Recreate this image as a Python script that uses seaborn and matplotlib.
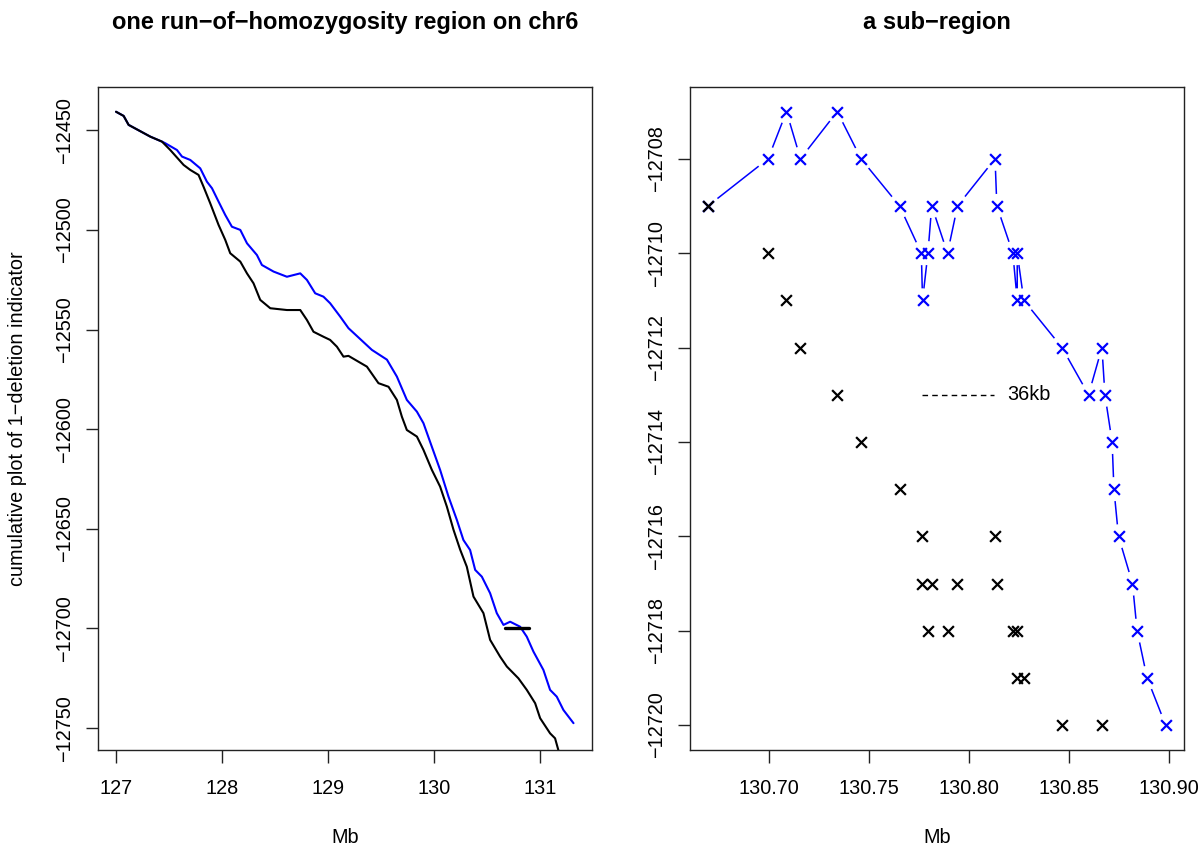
import numpy as np
import pandas as pd
import matplotlib
matplotlib.use("Agg")
import matplotlib.pyplot as plt
import matplotlib.ticker as mticker
import seaborn as sns

# ====== 左图：累计曲线（从图上读取的折线顶点） ======
black_mb = [127.000, 127.072, 127.119, 127.324, 127.434, 127.512, 127.638, 127.701,
            127.779, 127.826, 127.889, 127.968, 128.031, 128.078, 128.173, 128.236,
            128.298, 128.361, 128.456, 128.613, 128.739, 128.802, 128.864, 128.958,
            129.021, 129.085, 129.147, 129.194, 129.368, 129.477, 129.572, 129.651,
            129.698, 129.745, 129.840, 129.902, 129.981, 130.059, 130.123, 130.185,
            130.248, 130.311, 130.374, 130.468, 130.531, 130.625, 130.689, 130.798,
            130.877, 130.956, 131.003, 131.097, 131.144, 131.175]
black_cum = [-12440.7, -12442.8, -12447.3, -12453.2, -12455.7, -12459.9, -12467.4, -12469.9,
             -12472.4, -12478.3, -12486.6, -12497.5, -12505.0, -12511.7, -12515.9, -12521.8,
             -12526.8, -12535.1, -12539.3, -12540.2, -12540.2, -12545.2, -12551.1, -12553.6,
             -12555.2, -12558.6, -12563.6, -12563.2, -12568.6, -12576.9, -12578.7, -12585.3,
             -12593.7, -12600.4, -12603.7, -12610.4, -12620.4, -12628.8, -12638.9, -12650.4,
             -12660.4, -12669.0, -12684.0, -12692.3, -12705.7, -12714.1, -12719.1, -12725.0,
             -12730.8, -12737.5, -12745.0, -12752.6, -12755.1, -12761.0]

blue_mb = [127.000, 127.072, 127.119, 127.324, 127.434, 127.465, 127.575, 127.623,
           127.701, 127.795, 127.858, 127.906, 127.968, 128.031, 128.094, 128.173,
           128.236, 128.330, 128.377, 128.487, 128.613, 128.739, 128.802, 128.880,
           128.958, 129.021, 129.116, 129.194, 129.415, 129.557, 129.651, 129.745,
           129.840, 129.902, 129.981, 130.059, 130.138, 130.217, 130.279, 130.342,
           130.390, 130.453, 130.531, 130.594, 130.657, 130.720, 130.814, 130.877,
           130.940, 131.034, 131.097, 131.160, 131.223, 131.318]
blue_cum = [-12440.7, -12442.8, -12447.3, -12453.2, -12455.7, -12456.5, -12459.9, -12463.2,
            -12464.9, -12469.1, -12475.8, -12479.1, -12485.8, -12492.5, -12498.4, -12500.0,
            -12506.7, -12512.6, -12517.6, -12520.9, -12523.5, -12521.8, -12525.1, -12531.8,
            -12533.5, -12536.8, -12543.5, -12549.3, -12560.2, -12565.1, -12573.6, -12585.3,
            -12591.2, -12597.0, -12608.8, -12620.4, -12633.8, -12645.5, -12655.6, -12660.6,
            -12670.6, -12674.0, -12682.3, -12692.3, -12698.2, -12696.6, -12699.1, -12704.1,
            -12711.6, -12720.8, -12730.8, -12734.2, -12740.9, -12747.5]

# 子区域标记（左图中的短横线）
sub_start, sub_end, sub_level = 130.6694, 130.8985, -12700

# ====== 右图：子区域的点 ======
sub_blue_mb = [130.6694, 130.6995, 130.7087, 130.7157, 130.7341, 130.7460, 130.7653,
               130.7762, 130.7768, 130.7795, 130.7814, 130.7893, 130.7943, 130.8131,
               130.8140, 130.8220, 130.8242, 130.8242, 130.8275, 130.8466, 130.8599,
               130.8666, 130.8681, 130.8717, 130.8726, 130.8749, 130.8819, 130.8842,
               130.8892, 130.8985]
sub_blue_val = [-12709, -12708, -12707, -12708, -12707, -12708, -12709,
                -12710, -12711, -12710, -12709, -12710, -12709, -12708,
                -12709, -12710, -12711, -12710, -12711, -12712, -12713,
                -12712, -12713, -12714, -12715, -12716, -12717, -12718,
                -12719, -12720]

sub_black_mb = [130.6694, 130.6995, 130.7087, 130.7157, 130.7341, 130.7460, 130.7653,
                130.7763, 130.8131, 130.7764, 130.7816, 130.7943, 130.8140,
                130.7797, 130.7893, 130.8220, 130.8242, 130.8242, 130.8275,
                130.8466, 130.8666]
sub_black_val = [-12709, -12710, -12711, -12712, -12713, -12714, -12715,
                 -12716, -12716, -12717, -12717, -12717, -12717,
                 -12718, -12718, -12718, -12718, -12719, -12719,
                 -12720, -12720]

# 36kb 标尺
scale_x0, scale_x1, scale_y, scale_label = 130.7766, 130.8125, -12713, "36kb"

# ====== 样式 ======
sns.set_theme(style="white")
plt.rcParams.update({
    "font.family": ["Liberation Sans", "DejaVu Sans"],
    "text.color": "black",
    "axes.labelcolor": "black",
    "axes.edgecolor": "#222222",
    "axes.linewidth": 1.0,
    "xtick.bottom": True,
    "ytick.left": True,
    "xtick.direction": "out",
    "ytick.direction": "out",
    "xtick.major.size": 9,
    "ytick.major.size": 9,
    "xtick.major.width": 1.0,
    "ytick.major.width": 1.0,
    "xtick.color": "#222222",
    "ytick.color": "#222222",
    "xtick.labelcolor": "black",
    "ytick.labelcolor": "black",
    "xtick.labelsize": 14.3,
    "ytick.labelsize": 14.3,
    "axes.unicode_minus": True,
})

BLUE = "#0000FF"
fig = plt.figure(figsize=(12, 8.49), dpi=100)
ax1 = fig.add_axes([0.0814, 0.1170, 0.4117, 0.7805])
ax2 = fig.add_axes([0.5750, 0.1170, 0.4117, 0.7805])

# ---- 左图 ----
left = pd.concat([
    pd.DataFrame({"Mb": blue_mb, "cum": blue_cum, "set": "blue"}),
    pd.DataFrame({"Mb": black_mb, "cum": black_cum, "set": "black"}),
])
sns.lineplot(data=left, x="Mb", y="cum", hue="set", palette={"blue": BLUE, "black": "black"},
             sort=False, estimator=None, linewidth=1.5, legend=False, ax=ax1)
ax1.plot([sub_start, sub_end], [sub_level, sub_level], color="black", linewidth=2.4)
ax1.set_xlim(126.827, 131.49)
ax1.set_ylim(-12760.8, -12428.3)
ax1.set_xticks([127, 128, 129, 130, 131])
ax1.set_yticks([-12450, -12500, -12550, -12600, -12650, -12700, -12750])
ax1.set_title("one run\u2212of\u2212homozygosity region on chr6", fontsize=17,
              fontweight="bold", pad=42)
ax1.set_xlabel("Mb", fontsize=14.3, labelpad=22)
ax1.set_ylabel("cumulative plot of 1\u2212deletion indicator", fontsize=14.3, labelpad=20)

# ---- 右图 ----
right_line = pd.DataFrame({"Mb": sub_blue_mb, "val": sub_blue_val})
sns.lineplot(data=right_line, x="Mb", y="val", sort=False, estimator=None,
             color=BLUE, linewidth=1.1, ax=ax2, zorder=1)
# R type="b"：点附近留白
ax2.scatter(sub_blue_mb, sub_blue_val, s=300, color="white", edgecolor="none", zorder=2)
sns.scatterplot(x=sub_blue_mb, y=sub_blue_val, marker="x", s=60, color=BLUE,
                linewidth=1.6, ax=ax2, zorder=3)
sns.scatterplot(x=sub_black_mb, y=sub_black_val, marker="x", s=60, color="black",
                linewidth=1.6, ax=ax2, zorder=4)
ax2.plot([scale_x0, scale_x1], [scale_y, scale_y], color="black", linestyle=(0, (4, 3)),
         linewidth=1.0)
ax2.text(scale_x1 + 0.0065, scale_y, scale_label, fontsize=14.3, va="center", ha="left")
ax2.set_xlim(130.6604, 130.9077)
ax2.set_ylim(-12720.52, -12706.48)
ax2.set_xticks([130.70, 130.75, 130.80, 130.85, 130.90])
ax2.xaxis.set_major_formatter(mticker.FormatStrFormatter("%.2f"))
ax2.set_yticks(list(range(-12708, -12721, -2)))
ax2.set_title("a sub\u2212region", fontsize=17, fontweight="bold", pad=42)
ax2.set_xlabel("Mb", fontsize=14.3, labelpad=22)
ax2.set_ylabel("")

for ax in (ax1, ax2):
    for s in ax.spines.values():
        s.set_visible(True)
    ax.tick_params(axis="x", pad=12)
    ax.tick_params(axis="y", pad=8)
    for lab in ax.get_yticklabels():
        lab.set_rotation(90)
        lab.set_va("center")

fig.savefig("out.png", dpi=100)
